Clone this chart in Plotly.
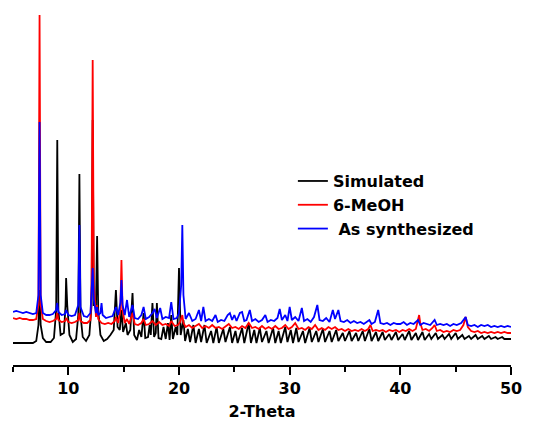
import plotly.graph_objects as go

# ---- Data (2-Theta, intensity in arbitrary units with vertical offsets) ----
sim_x = [5.0, 6.0, 6.8, 7.1, 7.3, 7.4, 7.5, 7.7, 8.0, 8.4, 8.7, 8.9, 9.0, 9.1, 9.3, 9.6, 9.75, 9.8, 9.9, 10.1,
         10.4, 10.7, 10.9, 11.0, 11.1, 11.3, 11.6, 11.9, 12.1, 12.2, 12.3, 12.5, 12.6, 12.7, 12.9, 13.2, 13.5,
         13.8, 14.1, 14.3, 14.45, 14.65, 14.8, 14.95, 15.2, 15.35, 15.6, 15.8, 15.95, 16.2, 16.4, 16.6, 16.8,
         16.95, 17.2, 17.35, 17.45, 17.6, 17.75, 17.9, 18.0, 18.15, 18.4, 18.6, 18.8, 19.0, 19.15, 19.3, 19.45,
         19.7, 19.85, 20.0, 20.15, 20.4, 20.55, 20.8, 21.0, 21.3, 21.5, 21.8, 22.0, 22.3, 22.5, 22.9, 23.1, 23.4,
         23.6, 24.0, 24.2, 24.6, 24.8, 25.1, 25.3, 25.7, 25.9, 26.3, 26.5, 26.8, 27.0, 27.3, 27.5, 27.9, 28.1,
         28.5, 28.7, 29.0, 29.2, 29.6, 29.8, 30.1, 30.3, 30.6, 30.8, 31.2, 31.4, 31.8, 32.0, 32.4, 32.6, 33.0,
         33.2, 33.6, 33.8, 34.2, 34.4, 34.8, 35.0, 35.4, 35.6, 36.0, 36.2, 36.6, 36.8, 37.2, 37.4, 37.8, 38.0,
         38.4, 38.6, 39.0, 39.2, 39.6, 39.8, 40.2, 40.4, 40.8, 41.0, 41.4, 41.6, 42.0, 42.2, 42.6, 42.8, 43.2,
         43.4, 43.8, 44.0, 44.4, 44.6, 45.0, 45.2, 45.6, 45.8, 46.2, 46.4, 46.8, 47.0, 47.4, 47.6, 48.0, 48.2,
         48.6, 48.8, 49.2, 49.4, 50.0]
sim_y = [22, 22, 22, 24, 40, 75, 40, 27, 23, 23, 27, 55, 225, 55, 30, 32, 60, 87, 60, 30,
         23, 26, 50, 191, 50, 28, 24, 30, 60, 245, 60, 60, 129, 55, 30, 24, 26,
         30, 35, 75, 38, 35, 55, 33, 42, 30, 35, 72, 30, 25, 35, 28, 52,
         27, 28, 40, 30, 62, 28, 32, 62, 27, 26, 38, 26, 42, 25, 50, 26,
         38, 30, 97, 30, 45, 24, 36, 23, 40, 22, 36, 23, 40, 22, 34, 22, 38,
         22, 36, 23, 38, 22, 34, 22, 37, 22, 42, 22, 35, 22, 37, 23, 34, 22,
         37, 22, 34, 22, 38, 23, 35, 22, 37, 23, 34, 22, 37, 23, 34, 23, 36,
         23, 34, 23, 35, 24, 32, 24, 34, 24, 32, 24, 34, 24, 36, 24, 33, 24,
         33, 25, 31, 25, 33, 25, 31, 25, 34, 25, 32, 25, 33, 25, 31, 26, 32,
         26, 30, 26, 31, 26, 32, 26, 30, 26, 29, 26, 30, 26, 29, 26, 29, 26,
         28, 26, 28, 26, 26]

meoh_x = [5.0, 5.3, 5.6, 5.9, 6.2, 6.5, 6.8, 7.1, 7.3, 7.4, 7.5, 7.7, 8.0, 8.3, 8.6, 8.9, 9.0, 9.1, 9.4, 9.7,
          9.8, 10.0, 10.3, 10.6, 10.9, 11.0, 11.1, 11.4, 11.7, 12.0, 12.1, 12.2, 12.3, 12.5, 12.6, 12.7, 13.0,
          13.3, 13.6, 13.9, 14.2, 14.3, 14.5, 14.7, 14.8, 14.9, 15.1, 15.3, 15.5, 15.8, 16.0, 16.3, 16.6, 16.8,
          17.0, 17.3, 17.6, 17.9, 18.2, 18.5, 18.8, 19.1, 19.3, 19.6, 19.9, 20.1, 20.3, 20.4, 20.6, 20.9, 21.2,
          21.5, 21.8, 22.1, 22.4, 22.7, 23.0, 23.3, 23.6, 23.9, 24.2, 24.5, 24.8, 25.1, 25.4, 25.7, 26.0, 26.3,
          26.6, 26.9, 27.2, 27.5, 27.8, 28.1, 28.4, 28.7, 29.0, 29.3, 29.6, 29.9, 30.2, 30.5, 30.8, 31.1, 31.4,
          31.7, 32.0, 32.3, 32.6, 32.9, 33.2, 33.5, 33.8, 34.1, 34.4, 34.7, 35.0, 35.3, 35.6, 35.9, 36.2, 36.5,
          36.8, 37.1, 37.3, 37.5, 37.8, 38.1, 38.4, 38.7, 39.0, 39.3, 39.6, 39.9, 40.2, 40.5, 40.8, 41.1, 41.4,
          41.6, 41.7, 41.8, 42.0, 42.3, 42.6, 42.9, 43.1, 43.3, 43.6, 43.9, 44.2, 44.5, 44.8, 45.1, 45.4, 45.7,
          45.9, 46.1, 46.4, 46.7, 47.0, 47.3, 47.6, 47.9, 48.2, 48.5, 48.8, 49.1, 49.4, 49.7, 50.0]
meoh_y = [47, 46, 47, 46, 46, 45, 45, 46, 60, 350, 60, 46, 44, 43, 44, 46, 52, 45, 43, 44,
          47, 43, 42, 43, 45, 52, 44, 42, 42, 45, 80, 305, 80, 48, 60, 46, 42,
          41, 42, 41, 44, 48, 42, 55, 105, 55, 42, 46, 41, 52, 41, 40, 42, 46,
          40, 41, 44, 40, 43, 40, 41, 39, 44, 39, 40, 43, 50, 42, 38, 40, 37,
          39, 41, 37, 39, 37, 40, 37, 38, 36, 39, 41, 37, 38, 36, 39, 37, 42,
          37, 38, 36, 39, 36, 38, 36, 39, 36, 37, 40, 36, 38, 42, 36, 37, 35,
          38, 36, 40, 35, 37, 35, 38, 36, 38, 35, 36, 34, 36, 34, 35, 34, 36,
          34, 36, 40, 34, 35, 34, 35, 33, 35, 34, 35, 33, 35, 34, 36, 34, 36,
          44, 50, 42, 35, 36, 34, 37, 40, 34, 35, 33, 34, 33, 35, 34, 35, 40,
          48, 38, 34, 33, 34, 32, 33, 32, 33, 32, 33, 32, 33, 32, 32]

synth_x = [5.0, 5.3, 5.6, 5.9, 6.2, 6.5, 6.8, 7.1, 7.3, 7.4, 7.5, 7.7, 8.0, 8.3, 8.6, 8.9, 9.0, 9.1, 9.4, 9.7,
           9.8, 10.0, 10.3, 10.6, 10.9, 11.0, 11.1, 11.4, 11.7, 12.0, 12.1, 12.2, 12.3, 12.5, 12.6, 12.7, 12.9,
           13.0, 13.1, 13.4, 13.7, 14.0, 14.3, 14.5, 14.7, 14.8, 14.9, 15.1, 15.3, 15.5, 15.8, 16.0, 16.3, 16.6,
           16.8, 17.0, 17.3, 17.6, 17.8, 18.0, 18.3, 18.5, 18.8, 19.1, 19.3, 19.5, 19.8, 20.0, 20.2, 20.3, 20.4,
           20.6, 20.9, 21.2, 21.5, 21.8, 22.0, 22.2, 22.4, 22.7, 23.0, 23.3, 23.5, 23.8, 24.1, 24.4, 24.6, 24.8,
           25.0, 25.2, 25.5, 25.7, 25.9, 26.1, 26.4, 26.6, 26.9, 27.2, 27.5, 27.8, 28.0, 28.3, 28.6, 28.9, 29.1,
           29.3, 29.6, 29.8, 30.0, 30.2, 30.5, 30.8, 31.1, 31.3, 31.6, 31.9, 32.2, 32.5, 32.7, 33.0, 33.3, 33.6,
           33.9, 34.1, 34.4, 34.6, 34.9, 35.2, 35.5, 35.8, 36.1, 36.4, 36.7, 37.0, 37.2, 37.4, 37.7, 38.0, 38.2,
           38.5, 38.8, 39.1, 39.4, 39.7, 40.0, 40.3, 40.6, 40.9, 41.2, 41.6, 41.8, 42.1, 42.4, 42.7, 43.1, 43.3,
           43.6, 43.9, 44.2, 44.5, 44.8, 45.1, 45.5, 45.9, 46.1, 46.4, 46.7, 47.0, 47.3, 47.6, 47.9, 48.2, 48.5,
           48.8, 49.1, 49.4, 49.7, 50.0]
synth_y = [53, 54, 53, 52, 53, 52, 51, 52, 70, 243, 70, 52, 50, 50, 51, 55, 62, 53, 50, 51,
           55, 50, 49, 50, 60, 140, 58, 49, 48, 52, 70, 97, 65, 52, 58, 50, 52,
           62, 50, 47, 48, 49, 58, 50, 62, 85, 60, 50, 65, 48, 60, 47, 46, 50,
           58, 46, 48, 52, 56, 47, 57, 46, 48, 47, 63, 46, 47, 52, 80, 140, 70,
           46, 52, 44, 46, 55, 44, 58, 44, 46, 44, 50, 43, 45, 44, 50, 52, 45,
           50, 44, 52, 53, 44, 45, 55, 44, 46, 43, 45, 50, 43, 45, 44, 47, 56,
           45, 50, 44, 58, 45, 48, 44, 57, 44, 46, 43, 48, 60, 45, 44, 47, 43,
           55, 46, 55, 44, 43, 45, 42, 44, 42, 43, 41, 43, 45, 41, 43, 55, 42,
           41, 42, 40, 42, 41, 41, 43, 40, 42, 41, 45, 40, 42, 41, 40, 45, 40,
           41, 40, 41, 39, 41, 40, 42, 48, 40, 39, 40, 38, 40, 39, 40, 38, 39,
           38, 39, 38, 39, 38]

series_names = ["Simulated", "6-MeOH", " As synthesized"]
series_colors = ["#000000", "#ff0000", "#0000ff"]
tick_vals = [10, 20, 30, 40, 50]
tick_text = ["10", "20", "30", "40", "50"]

fig = go.Figure()
for xs, ys, name, color in zip([sim_x, meoh_x, synth_x], [sim_y, meoh_y, synth_y],
                               series_names, series_colors):
    fig.add_trace(go.Scatter(x=xs, y=ys, mode="lines", name=name,
                             line=dict(color=color, width=1.8)))

font_family = "DejaVu Sans"
fig.update_layout(
    width=534, height=432,
    margin=dict(l=13, r=23, t=10, b=67),
    paper_bgcolor="white", plot_bgcolor="white",
    showlegend=True,
    legend=dict(x=0.562, y=0.566, xanchor="left", yanchor="top",
                font=dict(family=font_family, size=16, color="black", weight="bold"),
                bgcolor="rgba(0,0,0,0)", tracegroupgap=0),
    xaxis=dict(range=[5, 50], showgrid=False, zeroline=False,
               showline=True, linewidth=2, linecolor="black",
               ticks="outside", ticklen=8, tickwidth=2, tickcolor="black",
               tickvals=tick_vals, ticktext=tick_text,
               tickfont=dict(family=font_family, size=16, color="black", weight="bold"),
               minor=dict(dtick=5, tick0=5, ticks="outside", ticklen=5, tickwidth=2, tickcolor="black"),
               title=dict(text="2-Theta", standoff=9,
                          font=dict(family=font_family, size=16, color="black", weight="bold"))),
    yaxis=dict(range=[0, 355], visible=False),
)

fig.write_html("out.html")
